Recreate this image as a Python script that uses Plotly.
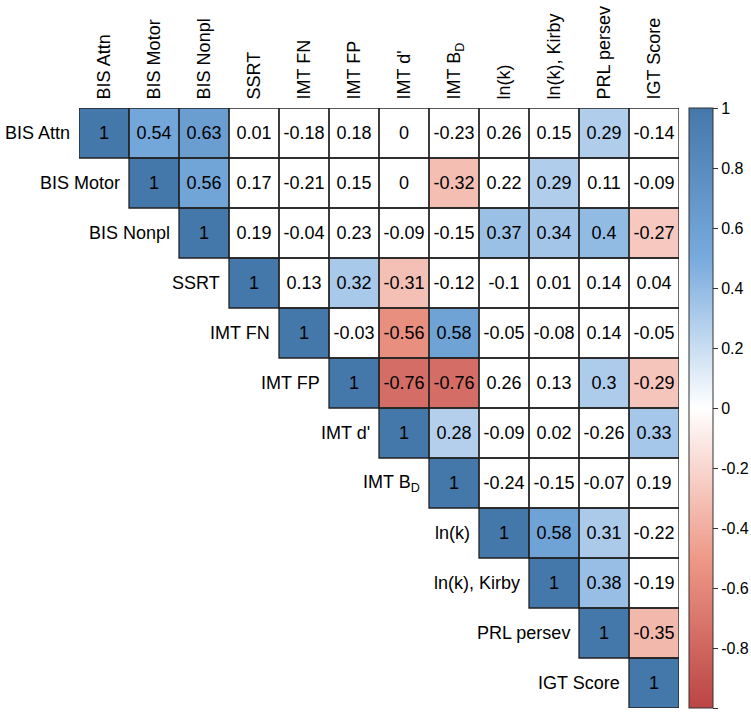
import plotly.graph_objects as go

labels = ["BIS Attn", "BIS Motor", "BIS Nonpl", "SSRT", "IMT FN", "IMT FP",
          "IMT d'", "IMT B<sub>D</sub>", "ln(k)", "ln(k), Kirby", "PRL persev", "IGT Score"]

# upper-triangle correlations, row by row (starting at the diagonal)
r_bis_attn   = [1, 0.54, 0.63, 0.01, -0.18, 0.18, 0, -0.23, 0.26, 0.15, 0.29, -0.14]
r_bis_motor  = [1, 0.56, 0.17, -0.21, 0.15, 0, -0.32, 0.22, 0.29, 0.11, -0.09]
r_bis_nonpl  = [1, 0.19, -0.04, 0.23, -0.09, -0.15, 0.37, 0.34, 0.4, -0.27]
r_ssrt       = [1, 0.13, 0.32, -0.31, -0.12, -0.1, 0.01, 0.14, 0.04]
r_imt_fn     = [1, -0.03, -0.56, 0.58, -0.05, -0.08, 0.14, -0.05]
r_imt_fp     = [1, -0.76, -0.76, 0.26, 0.13, 0.3, -0.29]
r_imt_d      = [1, 0.28, -0.09, 0.02, -0.26, 0.33]
r_imt_bd     = [1, -0.24, -0.15, -0.07, 0.19]
r_lnk        = [1, 0.58, 0.31, -0.22]
r_lnk_kirby  = [1, 0.38, -0.19]
r_prl        = [1, -0.35]
r_igt        = [1]

# significance flags (1 = coloured cell), same layout
s_bis_attn   = [1, 1, 1, 0, 0, 0, 0, 0, 0, 0, 1, 0]
s_bis_motor  = [1, 1, 0, 0, 0, 0, 1, 0, 1, 0, 0]
s_bis_nonpl  = [1, 0, 0, 0, 0, 0, 1, 1, 1, 1]
s_ssrt       = [1, 0, 1, 1, 0, 0, 0, 0, 0]
s_imt_fn     = [1, 0, 1, 1, 0, 0, 0, 0]
s_imt_fp     = [1, 1, 1, 0, 0, 1, 1]
s_imt_d      = [1, 1, 0, 0, 0, 1]
s_imt_bd     = [1, 0, 0, 0, 0]
s_lnk        = [1, 1, 1, 0]
s_lnk_kirby  = [1, 1, 0]
s_prl        = [1, 1]
s_igt        = [1]

cbar_vals = [1, 0.8, 0.6, 0.4, 0.2, 0, -0.2, -0.4, -0.6, -0.8, -1]
cbar_text = ["1", "0.8", "0.6", "0.4", "0.2", "0", "-0.2", "-0.4", "-0.6", "-0.8", "-1"]

rows_r = [r_bis_attn, r_bis_motor, r_bis_nonpl, r_ssrt, r_imt_fn, r_imt_fp,
          r_imt_d, r_imt_bd, r_lnk, r_lnk_kirby, r_prl, r_igt]
rows_s = [s_bis_attn, s_bis_motor, s_bis_nonpl, s_ssrt, s_imt_fn, s_imt_fp,
          s_imt_d, s_imt_bd, s_lnk, s_lnk_kirby, s_prl, s_igt]

n = len(labels)
z = [[None] * n for _ in range(n)]
txt = [[" "] * n for _ in range(n)]
for i in range(n):
    for k, (v, s) in enumerate(zip(rows_r[i], rows_s[i])):
        j = i + k
        z[i][j] = v if s else 0
        txt[i][j] = f"{v:g}"

colorscale = [[0, "#BB4444"], [0.25, "#EE9988"], [0.5, "#FFFFFF"],
              [0.75, "#77AADD"], [1, "#4477AA"]]

FONT = "Liberation Sans, Arial, sans-serif"

fig = go.Figure(go.Heatmap(
    z=z, x=list(range(n)), y=list(range(n)), text=txt,
    texttemplate="%{text}", textfont=dict(size=18, color="black", family=FONT),
    colorscale=colorscale, zmin=-1, zmax=1, hoverongaps=False,
    colorbar=dict(x=1.0167, xanchor="left", xpad=0, ypad=0, y=0.5, yanchor="middle",
                  len=1, lenmode="fraction", thickness=24,
                  outlinewidth=1, outlinecolor="#333",
                  tickvals=cbar_vals, ticktext=cbar_text, ticks="outside",
                  ticklen=5, tickcolor="#333",
                  tickfont=dict(size=16, color="black", family=FONT)),
))

shapes = []
for i in range(n):
    for j in range(i, n):
        shapes.append(dict(type="rect", xref="x", yref="y",
                           x0=j - 0.5, x1=j + 0.5, y0=i - 0.5, y1=i + 0.5,
                           line=dict(color="#222", width=1.3), fillcolor="rgba(0,0,0,0)"))

annotations = []
for i in range(n):
    annotations.append(dict(x=i - 0.5, y=i, xref="x", yref="y", text=labels[i],
                            showarrow=False, xanchor="right", yanchor="middle",
                            xshift=-7, font=dict(size=18, color="black", family=FONT)))

fig.update_layout(
    width=751, height=714,
    margin=dict(l=79, r=72, t=108, b=6, autoexpand=False),
    paper_bgcolor="white", plot_bgcolor="white",
    shapes=shapes, annotations=annotations,
    xaxis=dict(side="top", tickvals=list(range(n)), ticktext=labels, tickangle=-90,
               range=[-0.5, n - 0.5], showgrid=False, zeroline=False, showline=False,
               ticks="outside", ticklen=4, tickcolor="rgba(0,0,0,0)",
               tickfont=dict(size=18, color="black", family=FONT)),
    yaxis=dict(range=[n - 0.5, -0.5], showgrid=False, zeroline=False, showline=False,
               showticklabels=False, ticks=""),
    font=dict(family=FONT),
)

fig.write_html("out.html", config={"displayModeBar": False},
               post_script="document.body.style.margin='0';document.body.style.padding='0';")
